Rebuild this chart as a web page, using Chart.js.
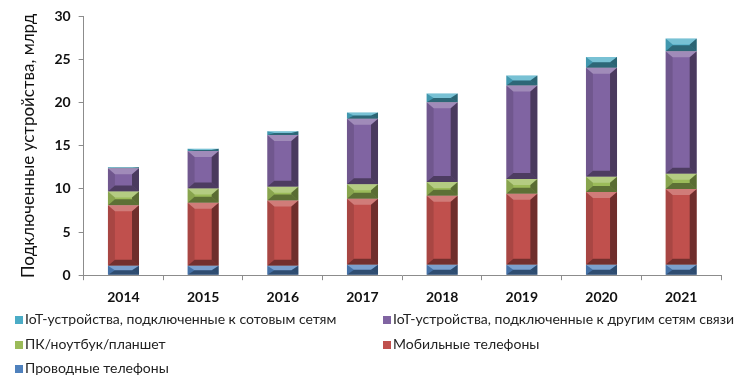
<!DOCTYPE html>
<html>
<head>
<meta charset="utf-8">
<script src="https://cdn.jsdelivr.net/npm/chart.js@4.4.1/dist/chart.umd.min.js"></script>
<style>
  html, body { margin: 0; padding: 0; background: #fff; }
  #wrap { position: relative; width: 736px; height: 376px; overflow: hidden; }
  #legend {
    position: absolute; left: 15px; top: 309px;
    display: grid; grid-template-columns: 368px 360px; row-gap: 4.5px;
    font: 14px Lato, sans-serif; color: #222;
  }
  #legend span.box {
    display: inline-block; width: 8px; height: 8px; margin-right: 2px;
  }
  #legend div { height: 20px; line-height: 20px; white-space: nowrap; }
</style>
</head>
<body>
<div id="wrap">
  <canvas id="chart" width="736" height="376"></canvas>
  <div id="legend"></div>
</div>
<script>
const years = ['2014', '2015', '2016', '2017', '2018', '2019', '2020', '2021'];
const wired = [1.1, 1.1, 1.1, 1.2, 1.2, 1.2, 1.2, 1.2];
const mobile = [7.0, 7.3, 7.55, 7.65, 8.0, 8.25, 8.45, 8.8];
const pc = [1.6, 1.65, 1.6, 1.7, 1.6, 1.7, 1.75, 1.75];
const iotOther = [2.7, 4.35, 6.0, 7.6, 9.25, 10.85, 12.65, 14.2];
const iotCell = [0.12, 0.25, 0.45, 0.7, 1.0, 1.15, 1.25, 1.5];
const yTicks = [0, 5, 10, 15, 20, 25, 30];

const names = {
  wired: 'Проводные телефоны',
  mobile: 'Мобильные телефоны',
  pc: 'ПК/ноутбук/планшет',
  iotOther: 'IoT-устройства, подключенные к другим сетям связи',
  iotCell: 'IoT-устройства, подключенные к сотовым сетям'
};
const colors = {
  wired: '#4f81bd',
  mobile: '#c0504d',
  pc: '#9bbb59',
  iotOther: '#8064a2',
  iotCell: '#4bacc6'
};

function makeSet(key, data) {
  return {
    label: names[key],
    data: data,
    backgroundColor: colors[key],
    borderWidth: 0,
    categoryPercentage: 1,
    barPercentage: 0.39
  };
}

// bevel look of the original 3D columns
const bevelPlugin = {
  id: 'bevel',
  afterDatasetsDraw(chart) {
    const ctx = chart.ctx;
    chart.data.datasets.forEach((ds, i) => {
      const meta = chart.getDatasetMeta(i);
      meta.data.forEach((bar) => {
        const l = bar.x - bar.width / 2;
        const r = bar.x + bar.width / 2;
        const t = Math.min(bar.y, bar.base);
        const b = Math.max(bar.y, bar.base);
        const h = b - t;
        const bx = Math.min(7, bar.width / 2);
        const by = Math.min(6, h / 2);
        const poly = (pts, fill) => {
          ctx.beginPath();
          ctx.moveTo(pts[0][0], pts[0][1]);
          pts.slice(1).forEach((p) => ctx.lineTo(p[0], p[1]));
          ctx.closePath();
          ctx.fillStyle = fill;
          ctx.fill();
        };
        ctx.save();
        poly([[l, t], [r, t], [r - bx, t + by], [l + bx, t + by]], 'rgba(255,255,255,0.25)');
        poly([[l, b], [r, b], [r - bx, b - by], [l + bx, b - by]], 'rgba(0,0,0,0.4)');
        poly([[r, t], [r, b], [r - bx, b - by], [r - bx, t + by]], 'rgba(0,0,0,0.42)');
        poly([[l, t], [l, b], [l + bx, b - by], [l + bx, t + by]], 'rgba(0,0,0,0.12)');
        ctx.restore();
      });
    });
  }
};

const chart = new Chart(document.getElementById('chart'), {
  type: 'bar',
  data: {
    labels: years,
    datasets: [
      makeSet('wired', wired),
      makeSet('mobile', mobile),
      makeSet('pc', pc),
      makeSet('iotOther', iotOther),
      makeSet('iotCell', iotCell)
    ]
  },
  options: {
    responsive: false,
    animation: false,
    layout: { padding: { left: 10, right: 15, top: 12, bottom: 61 } },
    plugins: {
      legend: { display: false },
      tooltip: { enabled: false }
    },
    scales: {
      x: {
        stacked: true,
        grid: { drawOnChartArea: false, drawTicks: true, tickLength: 5, color: '#8c8c8c' },
        border: { color: '#8c8c8c' },
        ticks: {
          color: '#111',
          padding: 9,
          font: { family: 'Lato', size: 14, weight: 'bold' }
        }
      },
      y: {
        stacked: true,
        min: 0,
        max: 30,
        afterBuildTicks: (axis) => { axis.ticks = yTicks.map((v) => ({ value: v })); },
        grid: { drawOnChartArea: false, drawTicks: true, tickLength: 5, color: '#8c8c8c' },
        border: { color: '#8c8c8c' },
        ticks: {
          color: '#111',
          padding: 8,
          font: { family: 'Lato', size: 14, weight: 'bold' }
        },
        title: {
          display: true,
          text: 'Подключенные устройства, млрд',
          color: '#111',
          padding: { top: 8, bottom: 8 },
          font: { family: 'Lato', size: 17 }
        }
      }
    }
  },
  plugins: [bevelPlugin]
});

// two-column legend, in the order of the original
const legendOrder = ['iotCell', 'iotOther', 'pc', 'mobile', 'wired'];
const legendEl = document.getElementById('legend');
legendOrder.forEach((key) => {
  const item = document.createElement('div');
  const box = document.createElement('span');
  box.className = 'box';
  box.style.background = colors[key];
  item.appendChild(box);
  item.appendChild(document.createTextNode(names[key]));
  legendEl.appendChild(item);
});
</script>
</body>
</html>
